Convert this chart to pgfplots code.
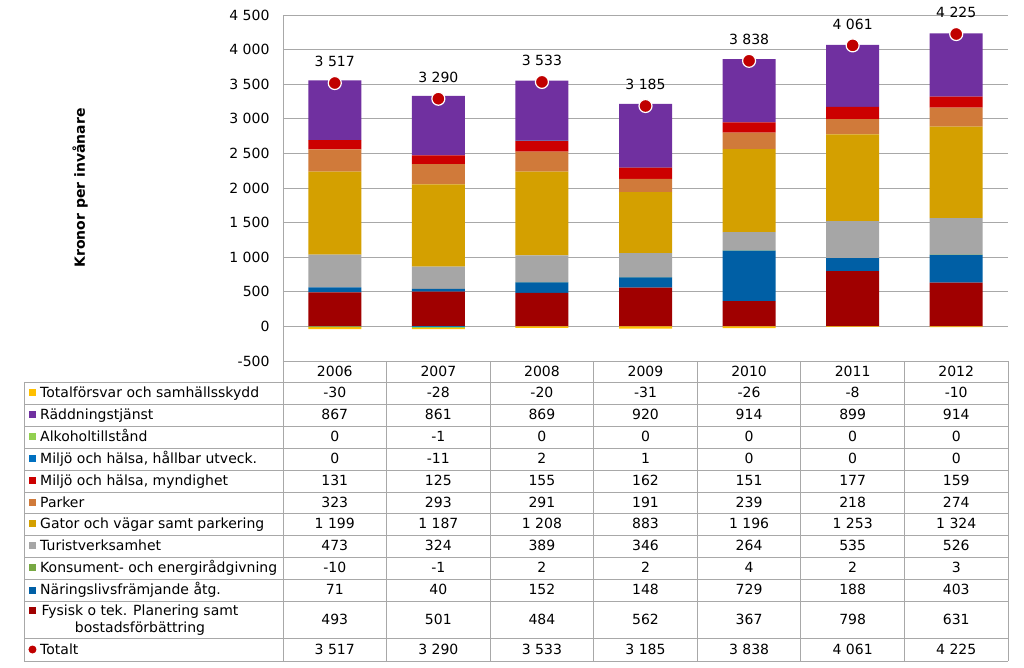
\documentclass[border=0pt]{standalone}
\usepackage{pgfplots}
\pgfplotsset{compat=1.18}
\usepackage{pgfplotstable}
\usepackage{fontspec}
\setmainfont{DejaVu Sans}
\definecolor{cTot}{HTML}{FFC000}
\definecolor{cRadd}{HTML}{7030A0}
\definecolor{cAlk}{HTML}{92D050}
\definecolor{cMhall}{HTML}{0070C0}
\definecolor{cMmyn}{HTML}{CC0000}
\definecolor{cPark}{HTML}{D07A3A}
\definecolor{cGat}{HTML}{D4A000}
\definecolor{cTur}{HTML}{A6A6A6}
\definecolor{cKon}{HTML}{77A843}
\definecolor{cNar}{HTML}{005FA5}
\definecolor{cFys}{HTML}{A00000}
\definecolor{cTotalt}{HTML}{C00000}
\definecolor{cGrid}{HTML}{A8A8A8}
\newcommand\chartfont{\fontsize{14bp}{17bp}\selectfont}
\pgfkeys{/pgf/number format/.cd,1000 sep={\ },assume math mode=true}

\pgfplotstableread{
x year tot radd alk mhall mmyn park gat tur kon nar fys totalt alkp alkn mhallp mhalln konp konn
0 2006 -30 867 0 0 131 323 1199 473 -10 71 493 3517 0 0 0 0 0 -10
1 2007 -28 861 -1 -11 125 293 1187 324 -1 40 501 3290 0 -1 0 -11 0 -1
2 2008 -20 869 0 2 155 291 1208 389 2 152 484 3533 0 0 2 0 2 0
3 2009 -31 920 0 1 162 191 883 346 2 148 562 3185 0 0 1 0 2 0
4 2010 -26 914 0 0 151 239 1196 264 4 729 367 3838 0 0 0 0 4 0
5 2011 -8 899 0 0 177 218 1253 535 2 188 798 4061 0 0 0 0 2 0
6 2012 -10 914 0 0 159 274 1324 526 3 403 631 4225 0 0 0 0 3 0
}\datatable

\pgfplotsset{common/.style={width=725bp,height=346bp,scale only axis,
  xmin=-0.5,xmax=6.5,ymin=-500,ymax=4500,anchor=south west}}

\begin{document}
\begin{tikzpicture}[x=1bp,y=1bp,every node/.style={font=\chartfont}]
% main axis: positive parts
\begin{axis}[common, name=main, ybar stacked, bar width=53bp,
  axis x line=none, axis y line*=left,
  axis line style={cGrid, line width=0.8bp},
  ytick={-500,0,...,4500}, ymajorgrids,
  grid style={cGrid, line width=0.8bp},
  major tick length=0pt,
  yticklabel style={font=\chartfont, anchor=east, xshift=-10bp},
  ylabel={Kronor per invånare},
  ylabel style={font=\chartfont\bfseries, at={(axis description cs:-0.28,0.5)}, anchor=center},
  ]
\addplot[fill=cFys, draw=none] table[x=x,y=fys]{\datatable};
\addplot[fill=cNar, draw=none] table[x=x,y=nar]{\datatable};
\addplot[fill=cKon, draw=none] table[x=x,y=konp]{\datatable};
\addplot[fill=cTur, draw=none] table[x=x,y=tur]{\datatable};
\addplot[fill=cGat, draw=none] table[x=x,y=gat]{\datatable};
\addplot[fill=cPark, draw=none] table[x=x,y=park]{\datatable};
\addplot[fill=cMmyn, draw=none] table[x=x,y=mmyn]{\datatable};
\addplot[fill=cMhall, draw=none] table[x=x,y=mhallp]{\datatable};
\addplot[fill=cAlk, draw=none] table[x=x,y=alkp]{\datatable};
\addplot[fill=cRadd, draw=none] table[x=x,y=radd]{\datatable};
\end{axis}
% negative parts
\begin{axis}[common, ybar stacked, bar width=53bp, hide axis]
\addplot[fill=cKon, draw=none] table[x=x,y=konn]{\datatable};
\addplot[fill=cMhall, draw=none] table[x=x,y=mhalln]{\datatable};
\addplot[fill=cAlk, draw=none] table[x=x,y=alkn]{\datatable};
\addplot[fill=cTot, draw=none] table[x=x,y=tot]{\datatable};
\end{axis}
% totals
\begin{axis}[common, hide axis, clip=false]
\addplot[only marks, mark=*, mark size=6.5bp,
  mark options={fill=cTotalt, draw=white, line width=1.2bp},
  nodes near coords, point meta=explicit,
  nodes near coords style={font=\chartfont, anchor=south, yshift=12bp, text=black}]
  table[x=x,y=totalt,meta=totalt]{\datatable};
\end{axis}
% data table, in page pixels (origin = bottom left of the page)
\begin{scope}[shift={(main.south west)}]
\begin{scope}[shift={(-283,-307)}]
\begin{scope}[cGrid, line width=0.8bp]
\foreach \yy in {286,264,242,220,198,176,155,133,111,89,67,30,7}
  \draw (24,\yy) -- (1008,\yy);
\draw (283,307) -- (1008,307);
\draw (24,286) -- (24,7);
\foreach \k in {0,...,7}
  \draw ({283+103.571*\k},307) -- ({283+103.571*\k},7);
\end{scope}
\foreach \c in {0,...,6}{
  \pgfplotstablegetelem{\c}{year}\of\datatable
  \node[anchor=base] at ({283+103.571*(\c+0.5)},291) {\pgfplotsretval};
}
\foreach \col/\yc/\clr/\lab in {
  tot/275/cTot/{Totalförsvar och samhällsskydd},
  radd/253/cRadd/{Räddningstjänst},
  alk/231/cAlk/{Alkoholtillstånd},
  mhall/209/cMhall/{Miljö och hälsa, hållbar utveck.},
  mmyn/187/cMmyn/{Miljö och hälsa, myndighet},
  park/165.5/cPark/{Parker},
  gat/144/cGat/{Gator och vägar samt parkering},
  tur/122/cTur/{Turistverksamhet},
  kon/100/cKon/{Konsument- och energirådgivning},
  nar/78/cNar/{Näringslivsfrämjande åtg.}}{
  \fill[\clr] (29,\yc-3.5) rectangle (36,\yc+3.5);
  \node[anchor=base west, inner sep=0pt] at (40,\yc-5) {\lab};
  \foreach \c in {0,...,6}{
    \pgfplotstablegetelem{\c}{\col}\of\datatable
    \node[anchor=base] at ({283+103.571*(\c+0.5)},\yc-5) {\pgfmathprintnumber{\pgfplotsretval}};
  }
}
% Fysisk row
\fill[cFys] (29,54.5) rectangle (36,61.5);
\node[align=center, anchor=base, inner sep=0pt] at (140,36) {Fysisk o tek. Planering samt\\bostadsförbättring};
\foreach \c in {0,...,6}{
  \pgfplotstablegetelem{\c}{fys}\of\datatable
  \node[anchor=base] at ({283+103.571*(\c+0.5)},43.5) {\pgfmathprintnumber{\pgfplotsretval}};
}
% Totalt row
\fill[cTotalt] (32.5,18.5) circle (4);
\node[anchor=base west, inner sep=0pt] at (40,13.5) {Totalt};
\foreach \c in {0,...,6}{
  \pgfplotstablegetelem{\c}{totalt}\of\datatable
  \node[anchor=base] at ({283+103.571*(\c+0.5)},13.5) {\pgfmathprintnumber{\pgfplotsretval}};
}
\pgfresetboundingbox
\useasboundingbox (0,0) rectangle (1024,668);
\end{scope}
\end{scope}
\end{tikzpicture}
\end{document}
